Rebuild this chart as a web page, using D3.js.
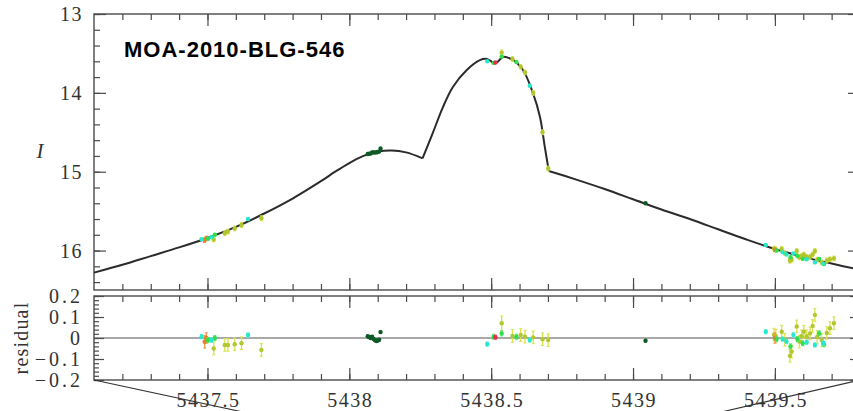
<!DOCTYPE html>
<html>

<head>
    <meta charset="UTF-8" />
    <script src="https://d3js.org/d3.v7.min.js"></script>
    <style>
        body { margin: 0; background: #fff; }
    </style>
</head>

<body>
    <script>
        // model light curve, split at the two caustic crossings
        let modelLeft = [
            [5437.1, 16.28], [5437.2, 16.18], [5437.3, 16.07], [5437.4, 15.96], [5437.5, 15.84],
            [5437.6, 15.7], [5437.7, 15.53], [5437.8, 15.34], [5437.9, 15.12], [5437.95, 15.0],
            [5438.0, 14.89], [5438.05, 14.8], [5438.1, 14.745], [5438.15, 14.73], [5438.2, 14.755],
            [5438.258, 14.83]
        ];
        let modelCaustic = [
            [5438.258, 14.83], [5438.294, 14.51], [5438.33, 14.18], [5438.365, 13.925], [5438.414, 13.71],
            [5438.46, 13.585], [5438.485, 13.57], [5438.5, 13.6], [5438.51, 13.63], [5438.525, 13.6],
            [5438.541, 13.545], [5438.576, 13.583], [5438.612, 13.71], [5438.647, 14.0], [5438.672, 14.305],
            [5438.689, 14.686], [5438.703, 14.99]
        ];
        let modelRight = [
            [5438.703, 14.99], [5438.8, 15.1], [5438.9, 15.22], [5439.0, 15.35], [5439.1, 15.48],
            [5439.2, 15.6], [5439.3, 15.73], [5439.4, 15.86], [5439.5, 15.98], [5439.6, 16.08],
            [5439.7, 16.165], [5439.8, 16.245]
        ];

        // data, one set of arrays per observatory
        let cyanT = [5437.479, 5437.514, 5437.643, 5438.486, 5438.636, 5439.468, 5439.527, 5439.541, 5439.565, 5439.612, 5439.641, 5439.67];
        let cyanMag = [15.855, 15.83, 15.6, 13.6, 13.91, 15.93, 16.02, 16.05, 16.035, 16.11, 16.15, 16.165];
        let cyanRes = [0.006, -0.01, 0.014, -0.029, -0.01, 0.03, -0.005, -0.017, 0.015, -0.02, -0.033, -0.024];
        let cyanErr = [0.01, 0.01, 0.01, 0.01, 0.01, 0.01, 0.01, 0.01, 0.01, 0.01, 0.01, 0.01];

        let greenT = [5437.502, 5437.526, 5438.509, 5438.537, 5438.589, 5439.506, 5439.555, 5439.579, 5439.598, 5439.656, 5439.673];
        let greenMag = [15.85, 15.8, 13.62, 13.54, 13.61, 16.0, 16.085, 16.065, 16.105, 16.105, 16.17];
        let greenRes = [-0.01, 0, 0.006, 0.022, 0.006, -0.005, -0.04, -0.005, -0.025, 0.022, -0.03];
        let greenErr = [0.012, 0.012, 0.012, 0.012, 0.012, 0.012, 0.012, 0.012, 0.012, 0.012, 0.012];

        let yellowT = [5437.522, 5437.561, 5437.572, 5437.596, 5437.62, 5437.69, 5438.537, 5438.575, 5438.604, 5438.619,
            5438.648, 5438.681, 5438.701, 5439.497, 5439.503, 5439.524, 5439.535, 5439.553, 5439.559, 5439.577,
            5439.586, 5439.594, 5439.602, 5439.612, 5439.624, 5439.633, 5439.641, 5439.649, 5439.665, 5439.683,
            5439.694, 5439.708];
        let yellowMag = [15.86, 15.78, 15.76, 15.72, 15.675, 15.59, 13.49, 13.57, 13.67, 13.74,
            14.0, 14.5, 14.96, 15.975, 15.985, 15.98, 16.03, 16.13, 16.115, 16.005,
            16.085, 16.07, 16.05, 16.082, 16.08, 16.05, 16.005, 16.115, 16.15, 16.125,
            16.11, 16.1];
        let yellowRes = [-0.05, -0.033, -0.033, -0.03, -0.025, -0.057, 0.07, 0.01, 0.014, 0.006,
            0.003, -0.006, -0.01, 0.016, 0.01, 0.03, -0.008, -0.085, -0.065, 0.055,
            -0.017, 0.008, 0.03, 0.008, 0.022, 0.057, 0.11, 0.005, -0.01, 0.024,
            0.047, 0.07];
        let yellowErr = [0.03, 0.03, 0.03, 0.03, 0.03, 0.03, 0.035, 0.03, 0.03, 0.03,
            0.03, 0.03, 0.03, 0.03, 0.03, 0.03, 0.03, 0.03, 0.03, 0.03,
            0.03, 0.03, 0.03, 0.03, 0.03, 0.03, 0.03, 0.03, 0.03, 0.03,
            0.03, 0.03];

        let orangeT = [5437.49, 5437.496, 5439.5];
        let orangeMag = [15.868, 15.843, 15.99];
        let orangeRes = [-0.018, 0, 0];
        let orangeErr = [0.03, 0.025, 0.025];

        let redT = [5438.515];
        let redMag = [13.615];
        let redRes = [0.004];
        let redErr = [0.01];

        let darkT = [5438.065, 5438.07, 5438.075, 5438.08, 5438.085, 5438.09, 5438.095, 5438.1, 5438.105, 5438.11, 5439.044];
        let darkMag = [14.775, 14.77, 14.77, 14.755, 14.755, 14.755, 14.755, 14.75, 14.745, 14.705, 15.4];
        let darkRes = [0.008, 0.004, 0, 0.006, -0.004, -0.01, -0.014, -0.012, -0.008, 0.028, -0.013];
        let darkErr = [0.005, 0.005, 0.005, 0.005, 0.005, 0.005, 0.005, 0.005, 0.005, 0.005, 0.005];

        // tick values and labels
        let xMajor = [5437.5, 5438, 5438.5, 5439, 5439.5];
        let xLabels = ["5437.5", "5438", "5438.5", "5439", "5439.5"];
        let magMajor = [13, 14, 15, 16];
        let magLabels = ["13", "14", "15", "16"];
        let resMajor = [0.2, 0.1, 0, -0.1, -0.2];
        let resLabels = ["0.2", "0.1", "0", "\u22120.1", "\u22120.2"];

        let width = 853;
        let height = 411;

        let svg = d3.select("body")
            .append("svg")
            .attr("width", width)
            .attr("height", height)

        let x = d3.scaleLinear()
            .domain([5437.1, 5439.8])
            .range([94, 860]);

        let yMain = d3.scaleLinear()
            .domain([13, 16.5])
            .range([14, 290]);

        let yRes = d3.scaleLinear()
            .domain([-0.2, 0.2])
            .range([380, 296]);

        let xMinor = d3.range(54372, 54398).map(function (i) { return i / 10; });
        let magMinor = d3.range(65, 83).map(function (i) { return i / 5; });
        let resMinor = d3.range(-10, 11).map(function (i) { return i / 50; });

        let axisColor = "#4a4a4a";

        function tickAxis(axis, values, size, transform) {
            let g = svg.append("g")
                .attr("transform", transform)
                .call(axis.tickValues(values).tickSize(size).tickFormat(""));
            g.select(".domain").remove();
            g.selectAll("line").attr("stroke", axisColor).attr("stroke-width", 1.2);
        }

        // ticks on every side of both panels, pointing inwards
        [[yMain, 14, 290], [yRes, 296, 380]].forEach(function (p) {
            let top = p[1], bottom = p[2];
            tickAxis(d3.axisTop(x), xMajor, -12, `translate(0,${top})`);
            tickAxis(d3.axisTop(x), xMinor, -6, `translate(0,${top})`);
            tickAxis(d3.axisBottom(x), xMajor, -12, `translate(0,${bottom})`);
            tickAxis(d3.axisBottom(x), xMinor, -6, `translate(0,${bottom})`);
        });
        tickAxis(d3.axisLeft(yMain), magMajor, -12, `translate(${x.range()[0]},0)`);
        tickAxis(d3.axisLeft(yMain), magMinor, -6, `translate(${x.range()[0]},0)`);
        tickAxis(d3.axisRight(yMain), magMajor, -12, `translate(${x.range()[1]},0)`);
        tickAxis(d3.axisRight(yMain), magMinor, -6, `translate(${x.range()[1]},0)`);
        tickAxis(d3.axisLeft(yRes), resMajor, -10, `translate(${x.range()[0]},0)`);
        tickAxis(d3.axisLeft(yRes), resMinor, -5, `translate(${x.range()[0]},0)`);
        tickAxis(d3.axisRight(yRes), resMajor, -10, `translate(${x.range()[1]},0)`);
        tickAxis(d3.axisRight(yRes), resMinor, -5, `translate(${x.range()[1]},0)`);

        // panel frames
        [yMain, yRes].forEach(function (yScale) {
            let r = yScale.range();
            svg.append("rect")
                .attr("x", x.range()[0])
                .attr("y", Math.min(r[0], r[1]))
                .attr("width", x.range()[1] - x.range()[0])
                .attr("height", Math.abs(r[0] - r[1]))
                .attr("fill", "none")
                .attr("stroke", axisColor)
                .attr("stroke-width", 1.4);
        });

        // zero line of the residuals
        svg.append("line")
            .attr("x1", x.range()[0]).attr("x2", x.range()[1])
            .attr("y1", yRes(0)).attr("y2", yRes(0))
            .attr("stroke", "#555").attr("stroke-width", 1.2);

        // lines that lead down to the zoomed panel below
        svg.append("line")
            .attr("x1", x.range()[0]).attr("y1", yRes(-0.2))
            .attr("x2", x.range()[0] + 180).attr("y2", yRes(-0.2) + 180 * 0.215)
            .attr("stroke", "#333").attr("stroke-width", 1.1);
        svg.append("line")
            .attr("x1", x.range()[1]).attr("y1", yRes(-0.2))
            .attr("x2", x.range()[1] - 180).attr("y2", yRes(-0.2) + 180 * 0.231)
            .attr("stroke", "#333").attr("stroke-width", 1.1);

        // tick labels
        let labelFont = "Liberation Serif, DejaVu Serif, serif";
        svg.append("g").selectAll("text")
            .data(xMajor)
            .join("text")
            .attr("x", function (d) { return x(d) + 1; })
            .attr("y", 407)
            .attr("text-anchor", "middle")
            .attr("font-family", labelFont)
            .attr("font-size", 20)
            .attr("letter-spacing", 1.5)
            .attr("fill", "#333")
            .text(function (d, i) { return xLabels[i]; });

        svg.append("g").selectAll("text")
            .data(magMajor)
            .join("text")
            .attr("x", 83)
            .attr("y", function (d) { return yMain(d); })
            .attr("dy", "0.35em")
            .attr("text-anchor", "end")
            .attr("font-family", labelFont)
            .attr("font-size", 20)
            .attr("letter-spacing", 1.5)
            .attr("fill", "#333")
            .text(function (d, i) { return magLabels[i]; });

        svg.append("g").selectAll("text")
            .data(resMajor)
            .join("text")
            .attr("x", 83)
            .attr("y", function (d) { return yRes(d); })
            .attr("dy", "0.35em")
            .attr("text-anchor", "end")
            .attr("font-family", labelFont)
            .attr("font-size", 20)
            .attr("letter-spacing", 3)
            .attr("fill", "#333")
            .text(function (d, i) { return resLabels[i]; });

        // axis titles
        svg.append("text")
            .attr("x", 40)
            .attr("y", 158)
            .attr("text-anchor", "middle")
            .attr("font-family", labelFont)
            .attr("font-style", "italic")
            .attr("font-size", 21)
            .attr("fill", "#333")
            .text("I");

        svg.append("text")
            .attr("transform", `translate(28,${yRes(0)}) rotate(-90)`)
            .attr("text-anchor", "middle")
            .attr("font-family", labelFont)
            .attr("font-size", 20)
            .attr("letter-spacing", 1.2)
            .attr("fill", "#333")
            .text("residual");

        svg.append("text")
            .attr("x", 124)
            .attr("y", 57)
            .attr("font-family", "Liberation Sans, Arial, sans-serif")
            .attr("font-weight", "bold")
            .attr("font-size", 22)
            .attr("letter-spacing", 1)
            .attr("fill", "#000")
            .text("MOA-2010-BLG-546");

        // model curve
        let line = d3.line()
            .x(function (d) { return x(d[0]); })
            .y(function (d) { return yMain(d[1]); })
            .curve(d3.curveCatmullRom.alpha(0.5));

        [modelLeft, modelCaustic, modelRight].forEach(function (seg) {
            svg.append("path")
                .datum(seg)
                .attr("fill", "none")
                .attr("stroke", "#2b2b2b")
                .attr("stroke-width", 2)
                .attr("d", line);
        });

        // data points with error bars in both panels
        let series = [
            { t: yellowT, mag: yellowMag, res: yellowRes, err: yellowErr, dot: "#b2c62e", bar: "#d9e24c" },
            { t: orangeT, mag: orangeMag, res: orangeRes, err: orangeErr, dot: "#f07a2a", bar: "#f49a50" },
            { t: greenT, mag: greenMag, res: greenRes, err: greenErr, dot: "#2ee04a", bar: "#5ae86a" },
            { t: cyanT, mag: cyanMag, res: cyanRes, err: cyanErr, dot: "#26e8cf", bar: "#56eedc" },
            { t: redT, mag: redMag, res: redRes, err: redErr, dot: "#e0304a", bar: "#e86070" },
            { t: darkT, mag: darkMag, res: darkRes, err: darkErr, dot: "#0d5a26", bar: "#0d5a26" }
        ];

        function drawPoints(s, vals, yScale) {
            let pts = s.t.map(function (t, i) {
                return { t: t, v: vals[i], e: s.err[i] };
            });
            let g = svg.append("g");
            g.selectAll(".bar")
                .data(pts)
                .join("line")
                .attr("class", "bar")
                .attr("x1", function (d) { return x(d.t); })
                .attr("x2", function (d) { return x(d.t); })
                .attr("y1", function (d) { return yScale(d.v - d.e); })
                .attr("y2", function (d) { return yScale(d.v + d.e); })
                .attr("stroke", s.bar)
                .attr("stroke-width", 1.3);
            g.selectAll(".cap")
                .data(pts.flatMap(function (d) { return [[d.t, d.v - d.e], [d.t, d.v + d.e]]; }))
                .join("line")
                .attr("class", "cap")
                .attr("x1", function (d) { return x(d[0]) - 1.5; })
                .attr("x2", function (d) { return x(d[0]) + 1.5; })
                .attr("y1", function (d) { return yScale(d[1]); })
                .attr("y2", function (d) { return yScale(d[1]); })
                .attr("stroke", s.bar)
                .attr("stroke-width", 1.1);
            g.selectAll(".dot")
                .data(pts)
                .join("circle")
                .attr("class", "dot")
                .attr("cx", function (d) { return x(d.t); })
                .attr("cy", function (d) { return yScale(d.v); })
                .attr("r", 2.2)
                .attr("fill", s.dot);
        }

        series.forEach(function (s) {
            drawPoints(s, s.mag, yMain);
            drawPoints(s, s.res, yRes);
        });
    </script>
</body>

</html>
